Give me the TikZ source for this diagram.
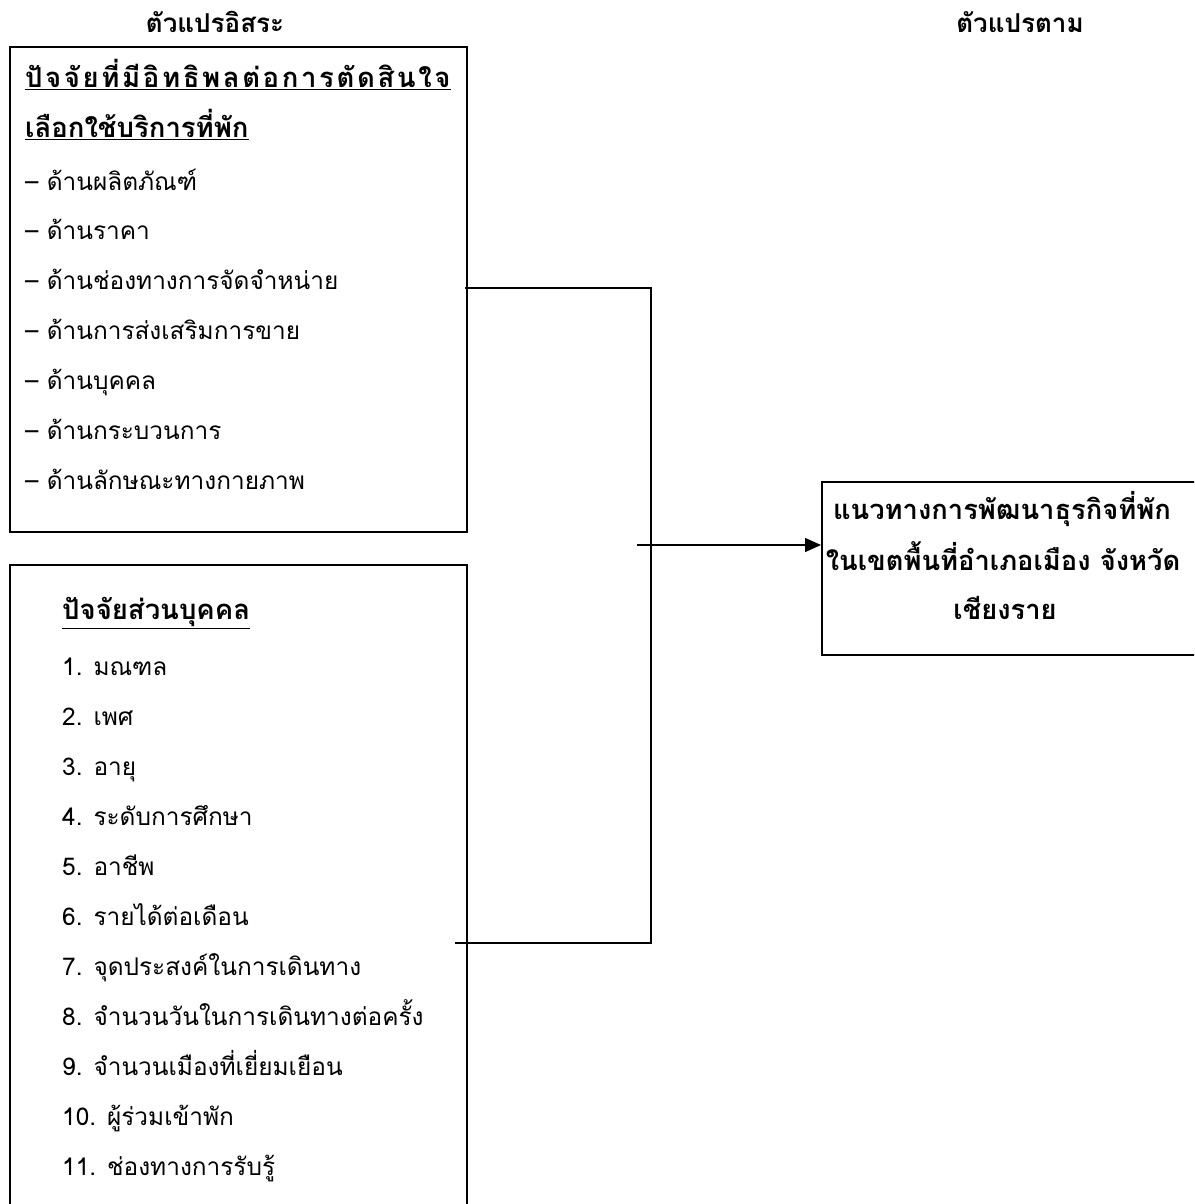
\documentclass[tikz,border=0pt]{standalone}
\usepackage{fontspec}
\setmainfont{Loma}[Script=Thai]
\usetikzlibrary{positioning,arrows.meta}

\begin{document}
\begin{tikzpicture}[
    x=1pt, y=-1pt,
    frame/.style={rectangle, draw, line width=2pt, inner sep=0pt},
    title/.style={font=\fontsize{26}{30}\selectfont\bfseries, inner sep=0pt, text height=1ex, text depth=0pt},
    head/.style={anchor=west, font=\fontsize{27.5}{32}\selectfont\bfseries, inner sep=0pt, text height=1ex, text depth=0pt},
    item/.style={anchor=west, font=\fontsize{24.4}{28}\selectfont, inner sep=0pt, text height=1ex, text depth=0pt},
    goal/.style={font=\fontsize{27.3}{32}\selectfont\bfseries, inner sep=0pt, text height=1ex, text depth=0pt},
    line/.style={line width=1.5pt},
    arrow/.style={line width=1.5pt, -{Triangle[length=16pt,width=14pt]}}
]
\useasboundingbox (0,0) rectangle (1194,1204);
\clip (0,0) rectangle (1194,1204);

% Überschriften
\node[title] (indep) at (215,30) {ตัวแปรอิสระ};
\node[title] (dep) at (1020,30) {ตัวแปรตาม};

% Kästen
\node[frame, minimum width=457pt, minimum height=485pt] (factors) at (238.5,289.5) {};
\node[frame, minimum width=457pt, minimum height=650pt] (personal) at (238.5,890) {};
\node[frame, minimum width=378pt, minimum height=173pt] (guide) at (1011,568.5) {};

% Faktoren (oben)
\node[head] (fhead1) at (25,85) {\underline{\addfontfeature{LetterSpace=9.5}ปัจจัยที่มีอิทธิพลต่อการตัดสินใจ}};
\node[head] (fhead2) at (25,135) {\underline{เลือกใช้บริการที่พัก}};
\node[item] (f1) at (25,188) {– ด้านผลิตภัณฑ์};
\node[item] (f2) at (25,237) {– ด้านราคา};
\node[item] (f3) at (25,287) {– ด้านช่องทางการจัดจำหน่าย};
\node[item] (f4) at (25,337) {– ด้านการส่งเสริมการขาย};
\node[item] (f5) at (25,387) {– ด้านบุคคล};
\node[item] (f6) at (25,437) {– ด้านกระบวนการ};
\node[item] (f7) at (25,487) {– ด้านลักษณะทางกายภาพ};

% Persönliche Faktoren (unten)
\node[head] (phead) at (62,617) {\underline{ปัจจัยส่วนบุคคล}};
\node[item] (p1) at (62,673) {1. มณฑล};
\node[item] (p2) at (62,723) {2. เพศ};
\node[item] (p3) at (62,773) {3. อายุ};
\node[item] (p4) at (62,823) {4. ระดับการศึกษา};
\node[item] (p5) at (62,873) {5. อาชีพ};
\node[item] (p6) at (62,923) {6. รายได้ต่อเดือน};
\node[item] (p7) at (62,973) {7. จุดประสงค์ในการเดินทาง};
\node[item] (p8) at (62,1023) {8. จำนวนวันในการเดินทางต่อครั้ง};
\node[item] (p9) at (62,1073) {9. จำนวนเมืองที่เยี่ยมเยือน};
\node[item] (p10) at (62,1123) {10. ผู้ร่วมเข้าพัก};
\node[item] (p11) at (62,1173) {11. ช่องทางการรับรู้};

% Zielkasten
\node[goal] (g1) at (1002,517) {แนวทางการพัฒนาธุรกิจที่พัก};
\node[goal] (g2) at (1003,568) {ในเขตพื้นที่อำเภอเมือง จังหวัด};
\node[goal] (g3) at (1005,617) {เชียงราย};

% Verbindungen
\coordinate (fout) at (465,288);
\coordinate (pout) at (455,943);
\coordinate (corner) at (651,943);
\coordinate (astart) at (637,545);
\draw[line] (fout) -| (corner) -- (pout);
\draw[arrow] (astart) -- (astart -| guide.west);

\end{tikzpicture}
\end{document}
